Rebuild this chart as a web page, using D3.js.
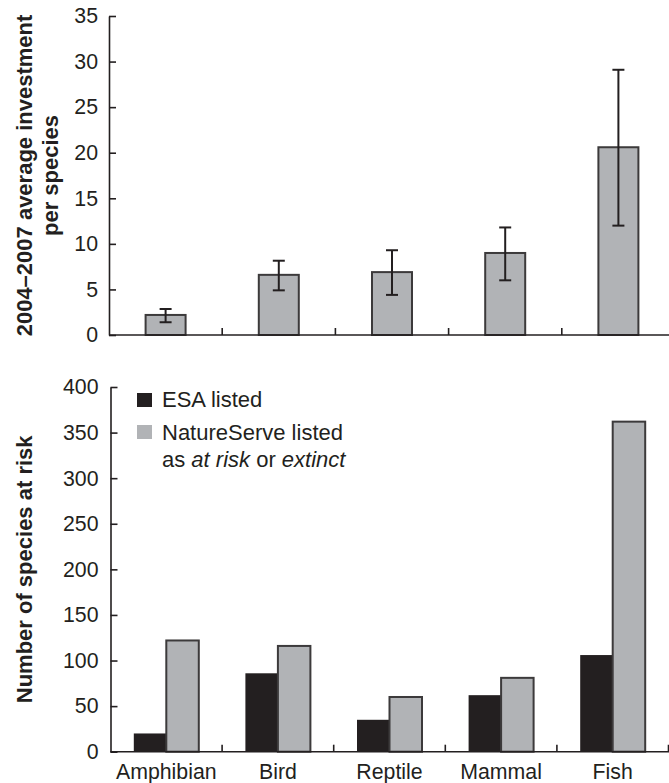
<!DOCTYPE html>
<html>
<head>
<meta charset="utf-8">
<script src="https://cdn.jsdelivr.net/npm/d3@7"></script>
<style>
  html, body { margin: 0; padding: 0; background: #fff; }
  svg { display: block; font-family: "Liberation Sans", Arial, Helvetica, sans-serif; }
</style>
</head>
<body>
<svg id="chart" width="669" height="783"></svg>
<script>
// ---- Data ----
const categories = ["Amphibian", "Bird", "Reptile", "Mammal", "Fish"];
// Top panel: 2004-2007 average investment per species (mean, lower & upper error bar)
const investMean  = [2.2, 6.6, 6.9, 9.0, 20.6];
const investLower = [1.4, 4.9, 4.4, 6.0, 12.0];
const investUpper = [2.85, 8.15, 9.3, 11.8, 29.1];
const investTicks = [0, 5, 10, 15, 20, 25, 30, 35];
// Bottom panel: number of species at risk
const esaListed = [20, 86, 35, 62, 106];
const natureServeListed = [122, 116, 60, 81, 362];
const riskTicks = [0, 50, 100, 150, 200, 250, 300, 350, 400];

const INK = "#231f20";
const GRAY = "#b1b3b6";
const EDGE = "#3c3a3b";

const svg = d3.select("#chart");

// ================= TOP PANEL =================
const yTop = d3.scaleLinear().domain([0, 35]).range([335, 16]);
const xTop = d3.scaleBand().domain(categories).range([109, 675]);
const gTop = svg.append("g");

// bars
const topBarW = 40;
gTop.selectAll("rect.bar").data(categories).join("rect")
  .attr("class", "bar")
  .attr("x", d => xTop(d) + xTop.bandwidth() / 2 - topBarW / 2)
  .attr("width", topBarW)
  .attr("y", (d, i) => yTop(investMean[i]))
  .attr("height", (d, i) => yTop(0) - yTop(investMean[i]))
  .attr("fill", GRAY)
  .attr("stroke", EDGE)
  .attr("stroke-width", 2);

// error bars
const capW = 12;
const eb = gTop.selectAll("g.err").data(categories).join("g").attr("class", "err")
  .attr("stroke", INK).attr("stroke-width", 2);
eb.append("line")
  .attr("x1", d => xTop(d) + xTop.bandwidth() / 2)
  .attr("x2", d => xTop(d) + xTop.bandwidth() / 2)
  .attr("y1", (d, i) => yTop(investLower[i]))
  .attr("y2", (d, i) => yTop(investUpper[i]));
eb.append("line")
  .attr("x1", d => xTop(d) + xTop.bandwidth() / 2 - capW / 2)
  .attr("x2", d => xTop(d) + xTop.bandwidth() / 2 + capW / 2)
  .attr("y1", (d, i) => yTop(investUpper[i]))
  .attr("y2", (d, i) => yTop(investUpper[i]));
eb.append("line")
  .attr("x1", d => xTop(d) + xTop.bandwidth() / 2 - capW / 2)
  .attr("x2", d => xTop(d) + xTop.bandwidth() / 2 + capW / 2)
  .attr("y1", (d, i) => yTop(investLower[i]))
  .attr("y2", (d, i) => yTop(investLower[i]));

// y axis
const yAxisTop = svg.append("g").attr("transform", "translate(109,0)")
  .call(d3.axisLeft(yTop).tickValues(investTicks).tickSize(-7).tickSizeOuter(0).tickPadding(11));
// x axis
const xAxisTop = svg.append("g");
xAxisTop.append("line").attr("x1", 109).attr("x2", 669).attr("y1", yTop(0)).attr("y2", yTop(0));
xAxisTop.selectAll("line.tk").data(d3.range(1, categories.length + 1)).join("line")
  .attr("class", "tk")
  .attr("x1", i => xTop.range()[0] + i * xTop.step())
  .attr("x2", i => xTop.range()[0] + i * xTop.step())
  .attr("y1", yTop(0)).attr("y2", yTop(0) - 7);

// title
const tTop = svg.append("text")
  .attr("transform", `translate(0,${(yTop(0) + yTop(35)) / 2}) rotate(-90)`)
  .attr("text-anchor", "middle").attr("font-weight", "bold").attr("font-size", 22).attr("fill", INK);
tTop.append("tspan").attr("x", 0).attr("y", 32).text("2004\u20132007 average investment");
tTop.append("tspan").attr("x", 0).attr("y", 58).text("per species");

// ================= BOTTOM PANEL =================
const yBot = d3.scaleLinear().domain([0, 400]).range([751.7, 387]);
const xBot = d3.scaleBand().domain(categories).range([110.5, 668.5]);
const gBot = svg.append("g");
const botBarW = 32.5;

gBot.selectAll("rect.esa").data(categories).join("rect")
  .attr("class", "esa")
  .attr("x", d => xBot(d) + xBot.bandwidth() / 2 - botBarW)
  .attr("width", botBarW)
  .attr("y", (d, i) => yBot(esaListed[i]))
  .attr("height", (d, i) => yBot(0) - yBot(esaListed[i]))
  .attr("fill", INK);

gBot.selectAll("rect.ns").data(categories).join("rect")
  .attr("class", "ns")
  .attr("x", d => xBot(d) + xBot.bandwidth() / 2)
  .attr("width", botBarW)
  .attr("y", (d, i) => yBot(natureServeListed[i]))
  .attr("height", (d, i) => yBot(0) - yBot(natureServeListed[i]))
  .attr("fill", GRAY)
  .attr("stroke", EDGE)
  .attr("stroke-width", 2);

const yAxisBot = svg.append("g").attr("transform", "translate(110.5,0)")
  .call(d3.axisLeft(yBot).tickValues(riskTicks).tickSize(-7).tickSizeOuter(0).tickPadding(12));
const xAxisBot = svg.append("g");
xAxisBot.append("line").attr("x1", 110.5).attr("x2", 669).attr("y1", yBot(0)).attr("y2", yBot(0));
xAxisBot.selectAll("line.tk").data(d3.range(1, categories.length + 1)).join("line")
  .attr("class", "tk")
  .attr("x1", i => xBot.range()[0] + i * xBot.step())
  .attr("x2", i => xBot.range()[0] + i * xBot.step())
  .attr("y1", yBot(0)).attr("y2", yBot(0) - 7);
xAxisBot.selectAll("text.cat").data(categories).join("text")
  .attr("class", "cat")
  .attr("x", d => xBot(d) + xBot.bandwidth() / 2)
  .attr("y", 779)
  .attr("text-anchor", "middle").attr("font-size", 21.3).attr("fill", INK)
  .text(d => d);

const tBot = svg.append("text")
  .attr("transform", `translate(0,${(yBot(0) + yBot(400)) / 2}) rotate(-90)`)
  .attr("text-anchor", "middle").attr("font-weight", "bold").attr("font-size", 22).attr("fill", INK);
tBot.append("tspan").attr("x", 0).attr("y", 32).text("Number of species at risk");

// legend
const leg = svg.append("g").attr("font-size", 22).attr("fill", INK);
leg.append("rect").attr("x", 137).attr("y", 393).attr("width", 15).attr("height", 14).attr("fill", INK);
leg.append("text").attr("x", 162).attr("y", 407).text("ESA listed");
leg.append("rect").attr("x", 137).attr("y", 425).attr("width", 15).attr("height", 14).attr("fill", GRAY);
leg.append("text").attr("x", 162).attr("y", 440).text("NatureServe listed");
const l3 = leg.append("text").attr("x", 162).attr("y", 467);
l3.append("tspan").text("as ");
l3.append("tspan").attr("font-style", "italic").text("at risk");
l3.append("tspan").text(" or ");
l3.append("tspan").attr("font-style", "italic").text("extinct");

// axis styling
svg.selectAll(".domain, .tick line").attr("stroke", INK).attr("stroke-width", 1.6);
svg.selectAll(".tick text").attr("font-size", 21.3).attr("fill", INK)
  .attr("font-family", "'Liberation Sans', Arial, Helvetica, sans-serif");
xAxisTop.selectAll("line").attr("stroke", INK).attr("stroke-width", 1.6);
xAxisBot.selectAll("line").attr("stroke", INK).attr("stroke-width", 1.6);
</script>
</body>
</html>
